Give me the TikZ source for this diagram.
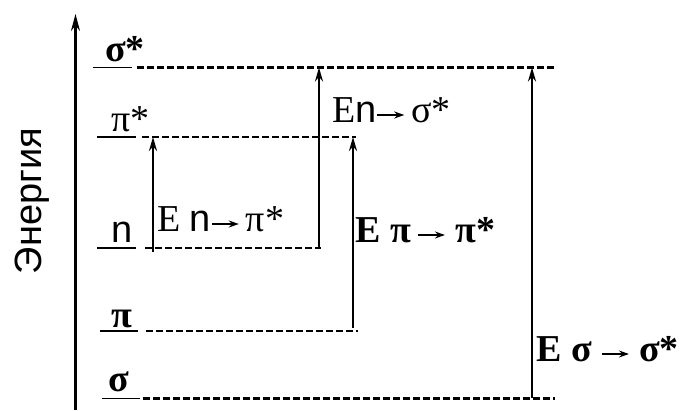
\documentclass[tikz,border=0pt]{standalone}
\usepackage{fontspec}
\setmainfont{Liberation Serif}
\setsansfont{Liberation Sans}
\usetikzlibrary{arrows.meta}
\newcommand{\tarr}{\tikz[baseline=0pt]\draw[line width=1.5pt,-{Stealth[length=10pt,width=7pt]}] (0pt,8pt)--(27pt,8pt);}

\begin{document}
\begin{tikzpicture}[x=1pt,y=1pt,
  lvl/.style={line width=1.6pt},
  gap/.style={line width=2.2pt,dash pattern=on 6.5pt off 3.5pt},
  trans/.style={line width=2.2pt,-{Stealth[length=14pt,width=8pt]}},
  lab/.style={inner sep=0pt,anchor=base west,font=\fontsize{38}{42}\selectfont}]
\useasboundingbox (0,0) rectangle (686,410);
% energy axis
\coordinate (ax0) at (75.5,0);
\coordinate (ax1) at (75.5,396);
\draw[line width=2.2pt,-{Stealth[length=17pt,width=9pt]}] (ax0)--(ax1);
\node[rotate=90,anchor=base,inner sep=0pt,font=\sffamily\fontsize{38}{42}\selectfont] (axlab) at (41,209) {Энергия};
% levels: name/y/solid from/to/dashed from/to
\foreach \nm/\y/\a/\b/\c/\d in {sigst/342.5/93/132/137/557, pist/273/97/136/142/356,
    nlev/162/97/136/145/321, pilev/79/100/138/146/358, siglev/11.5/102/140/143/555}{
  \coordinate (\nm-a) at (\a,\y);
  \coordinate (\nm-b) at (\b,\y);
  \coordinate (\nm-c) at (\c,\y);
  \coordinate (\nm-d) at (\d,\y);
  \draw[lvl] (\nm-a)--(\nm-b);
  \draw[gap] (\nm-c)--(\nm-d);
}
\node[lab] (sigstlab) at (105,348) {\bfseries σ*};
\node[lab] (pistlab) at (111,278) {π*};
\node[lab] (nlab) at (111,167) {\sffamily n};
\node[lab] (pilab) at (111,82) {\bfseries π};
\node[lab] (siglab) at (108,18) {\bfseries σ};
% transitions
\coordinate (t1a) at (153,158);
\coordinate (t1b) at (153,273);
\coordinate (t2a) at (319,162);
\coordinate (t2b) at (319,342.5);
\coordinate (t3a) at (353,82);
\coordinate (t3b) at (353,273);
\coordinate (t4a) at (532,11.5);
\coordinate (t4b) at (532,342.5);
\draw[trans] (t1a)--(t1b);
\draw[trans] (t2a)--(t2b);
\draw[trans] (t3a)--(t3b);
\draw[trans] (t4a)--(t4b);
\node[lab] (t1lab) at (157,178) {E {\sffamily n}\tarr\,π*};
\node[lab] (t2lab) at (332,287) {E{\sffamily n}\tarr\,σ*};
\node[lab] (t3lab) at (355,167) {\bfseries E π\,\tarr\ π*};
\node[lab] (t4lab) at (536,48) {\bfseries E σ \tarr\ σ*};
\end{tikzpicture}
\end{document}
